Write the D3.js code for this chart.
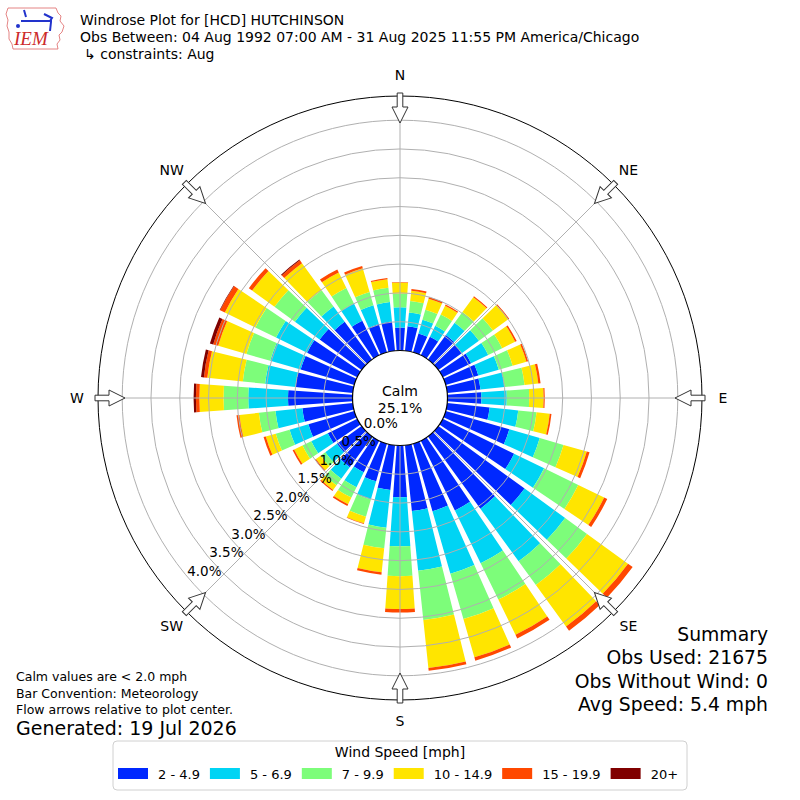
<!DOCTYPE html>
<html>
<head>
<meta charset="utf-8">
<script src="https://cdn.jsdelivr.net/npm/d3@7/dist/d3.min.js"></script>
<style>
  body { margin: 0; background: #fff; }
  svg text { font-family: "DejaVu Sans", sans-serif; fill: #000; }
</style>
</head>
<body>
<div id="windrose"></div>
<script>
// bar directions (degrees, where the wind comes from)
var directions = [0, 10, 20, 30, 40, 50, 60, 70, 80, 90, 100, 110, 120, 130, 140, 150, 160, 170,
                  180, 190, 200, 210, 220, 230, 240, 250, 260, 270, 280, 290, 300, 310, 320, 330, 340, 350];

// frequency (%) for each speed bin, one value per direction
var speed2to5 = [0.40, 0.43, 0.34, 0.36, 0.53, 0.50, 0.55, 0.59, 0.58, 0.59, 0.74, 1.15, 1.38, 1.85, 1.55, 1.35, 1.22, 1.15,
                 0.90, 0.78, 0.68, 0.61, 0.66, 0.53, 0.57, 0.83, 0.88, 1.12, 1.00, 0.97, 0.97, 0.90, 0.81, 0.67, 0.51, 0.51];
var speed5to7 = [0.35, 0.24, 0.25, 0.21, 0.26, 0.37, 0.33, 0.37, 0.42, 0.44, 0.50, 0.55, 0.58, 0.87, 1.13, 1.02, 1.13, 1.04,
                 0.85, 0.66, 0.33, 0.29, 0.25, 0.25, 0.32, 0.34, 0.47, 0.69, 0.53, 0.55, 0.60, 0.53, 0.33, 0.33, 0.34, 0.34];
var speed7to10 = [0.24, 0.20, 0.18, 0.22, 0.23, 0.30, 0.27, 0.25, 0.35, 0.39, 0.32, 0.43, 0.66, 0.47, 0.51, 0.70, 0.82, 0.86,
                  0.52, 0.36, 0.31, 0.20, 0.14, 0.10, 0.17, 0.25, 0.29, 0.43, 0.39, 0.43, 0.40, 0.44, 0.35, 0.30, 0.24, 0.25];
var speed10to15 = [0.19, 0.18, 0.20, 0.17, 0.32, 0.33, 0.25, 0.25, 0.24, 0.25, 0.23, 0.42, 0.50, 0.88, 0.89, 0.68, 0.69, 0.84,
                   0.57, 0.42, 0.12, 0.13, 0.10, 0.10, 0.16, 0.18, 0.34, 0.42, 0.62, 0.51, 0.59, 0.48, 0.58, 0.30, 0.43, 0.15];
var speed15to20 = [0.01, 0.03, 0.03, 0.02, 0.02, 0.02, 0.03, 0.03, 0.04, 0.02, 0.03, 0.05, 0.06, 0.10, 0.09, 0.07, 0.06, 0.05,
                   0.06, 0.04, 0.01, 0.03, 0.02, 0.02, 0.03, 0.04, 0.05, 0.06, 0.06, 0.09, 0.09, 0.07, 0.06, 0.06, 0.04, 0.02];
var speed20plus = [0, 0, 0, 0, 0, 0, 0, 0, 0, 0, 0, 0, 0, 0, 0, 0, 0, 0,
                   0, 0, 0, 0, 0, 0, 0, 0, 0, 0.04, 0.05, 0.06, 0.01, 0, 0.02, 0, 0, 0];

var binLabels = ['2 - 4.9', '5 - 6.9', '7 - 9.9', '10 - 14.9', '15 - 19.9', '20+'];
var binColors = ['#0028ff', '#00d4f4', '#7dfd7a', '#ffe500', '#ff4800', '#800000'];

var ringTicks = [0, 0.5, 1.0, 1.5, 2.0, 2.5, 3.0, 3.5, 4.0];
var compassLabels = ['N', 'NE', 'E', 'SE', 'S', 'SW', 'W', 'NW'];
var compassAngles = [0, 45, 90, 135, 180, 225, 270, 315];

var calmPct = 25.1;
var maxPct = 4.42;

var titleLines = ['Windrose Plot for [HCD] HUTCHINSON',
                  'Obs Between: 04 Aug 1992 07:00 AM - 31 Aug 2025 11:55 PM America/Chicago',
                  '\u21b3 constraints: Aug'];
var noteLines = ['Calm values are < 2.0 mph', 'Bar Convention: Meteorology', 'Flow arrows relative to plot center.'];
var summaryLines = ['Summary', 'Obs Used: 21675', 'Obs Without Wind: 0', 'Avg Speed: 5.4 mph'];

var width = 800, height = 800;
var cx = 400, cy = 398;
var rad = Math.PI / 180;

var svg = d3.select('#windrose').append('svg')
    .attr('width', width)
    .attr('height', height);

// ---- header -------------------------------------------------------------
var logo = svg.append('g').attr('transform', 'translate(4,4)');
logo.append('path')
    .attr('d', 'M4,4 L52,4 L54,9 L57,12 L56,17 L60,22 L58,28 L55,31 L56,36 L53,40 L54,45 L9,45 L8,40 L5,35 L5,28 L3,22 L4,16 L2,10 Z')
    .attr('fill', 'none')
    .attr('stroke', '#d66')
    .attr('stroke-width', 0.8);
logo.append('path')
    .attr('d', 'M17,17 L48,17 M20,6 L22,13 M40,10 L48,14 L46,17 M47,18 L46,27')
    .attr('fill', 'none')
    .attr('stroke', '#2233cc')
    .attr('stroke-width', 2);
logo.append('circle').attr('cx', 14).attr('cy', 22).attr('r', 2).attr('fill', '#2233cc');
logo.append('text')
    .attr('x', 10).attr('y', 41)
    .style('font-family', '"Liberation Serif", serif')
    .style('font-style', 'italic')
    .style('font-size', '19px')
    .style('fill', '#cc2a2a')
    .text('IEM');

svg.selectAll('.title-line')
    .data(titleLines)
    .enter()
    .append('text')
    .attr('class', 'title-line')
    .attr('x', (d, i) => i == 2 ? 84 : 80)
    .attr('y', (d, i) => 25 + i * 17)
    .style('font-size', '14px')
    .text(d => d);

// ---- scales -------------------------------------------------------------
var rScale = d3.scaleLinear()
    .domain([0, maxPct])
    .range([47.5, 302]);

var rows = directions.map(function(dir, i) {
    return {dir: dir, b0: speed2to5[i], b1: speed5to7[i], b2: speed7to10[i],
            b3: speed10to15[i], b4: speed15to20[i], b5: speed20plus[i]};
});
var stacked = d3.stack().keys(['b0', 'b1', 'b2', 'b3', 'b4', 'b5'])(rows);

var plot = svg.append('g').attr('transform', `translate(${cx},${cy})`);

var arc = d3.arc()
    .innerRadius(d => rScale(d[0]))
    .outerRadius(d => rScale(d[1]))
    .startAngle(d => (d.data.dir - 4) * rad)
    .endAngle(d => (d.data.dir + 4) * rad);

plot.selectAll('.bin')
    .data(stacked)
    .enter()
    .append('g')
    .attr('class', 'bin')
    .attr('fill', (d, i) => binColors[i])
    .selectAll('path')
    .data(d => d.filter(s => s[1] > s[0]))
    .enter()
    .append('path')
    .attr('d', arc);

// ---- grid ---------------------------------------------------------------
plot.selectAll('.ring')
    .data(ringTicks.filter(t => t > 0))
    .enter()
    .append('circle')
    .attr('class', 'ring')
    .attr('r', d => rScale(d))
    .attr('fill', 'none')
    .attr('stroke', '#b0b0b0')
    .attr('stroke-width', 1);

plot.selectAll('.spoke')
    .data(compassAngles)
    .enter()
    .append('line')
    .attr('class', 'spoke')
    .attr('x1', d => rScale(0) * Math.sin(d * rad))
    .attr('y1', d => -rScale(0) * Math.cos(d * rad))
    .attr('x2', d => rScale(maxPct) * Math.sin(d * rad))
    .attr('y2', d => -rScale(maxPct) * Math.cos(d * rad))
    .attr('stroke', '#b0b0b0')
    .attr('stroke-width', 1);

plot.append('circle')
    .attr('r', rScale(maxPct))
    .attr('fill', 'none')
    .attr('stroke', '#000')
    .attr('stroke-width', 1);

// calm circle in the middle
plot.append('circle')
    .attr('r', rScale(0))
    .attr('fill', '#fff')
    .attr('stroke', '#000')
    .attr('stroke-width', 1.2);
plot.append('text')
    .attr('text-anchor', 'middle')
    .attr('y', -2)
    .style('font-size', '14px')
    .text('Calm');
plot.append('text')
    .attr('text-anchor', 'middle')
    .attr('y', 15)
    .style('font-size', '14px')
    .text(calmPct.toFixed(1) + '%');

// ring labels along 230 deg
plot.selectAll('.ring-label')
    .data(ringTicks)
    .enter()
    .append('text')
    .attr('class', 'ring-label')
    .attr('x', d => rScale(d) * Math.sin(230 * rad))
    .attr('y', d => -rScale(d) * Math.cos(230 * rad) - 1)
    .style('font-size', '13.5px')
    .text(d => d.toFixed(1) + '%');

// ---- flow arrows + compass labels ---------------------------------------
var arrowPts = [[-2.8, -305], [2.8, -305], [2.8, -291], [8, -291], [0, -275], [-8, -291], [-2.8, -291]];
var arrowLine = d3.line();

plot.selectAll('.flow-arrow')
    .data(compassAngles)
    .enter()
    .append('path')
    .attr('class', 'flow-arrow')
    .attr('d', arrowLine(arrowPts) + 'Z')
    .attr('transform', d => `rotate(${d})`)
    .attr('fill', '#fff')
    .attr('stroke', '#333')
    .attr('stroke-width', 1);

plot.selectAll('.compass')
    .data(compassLabels)
    .enter()
    .append('text')
    .attr('class', 'compass')
    .attr('text-anchor', 'middle')
    .attr('dy', '0.36em')
    .attr('x', (d, i) => 323 * Math.sin(compassAngles[i] * rad))
    .attr('y', (d, i) => -323 * Math.cos(compassAngles[i] * rad))
    .style('font-size', '14px')
    .text(d => d);

// ---- notes and summary --------------------------------------------------
svg.selectAll('.note')
    .data(noteLines)
    .enter()
    .append('text')
    .attr('class', 'note')
    .attr('x', 16)
    .attr('y', (d, i) => 681 + i * 16.5)
    .style('font-size', '12.5px')
    .text(d => d);

svg.append('text')
    .attr('x', 16)
    .attr('y', 735)
    .style('font-size', '19px')
    .text('Generated: 19 Jul 2026');

svg.selectAll('.summary')
    .data(summaryLines)
    .enter()
    .append('text')
    .attr('class', 'summary')
    .attr('text-anchor', 'end')
    .attr('x', 768)
    .attr('y', (d, i) => 641 + i * 23.3)
    .style('font-size', '18.8px')
    .text(d => d);

// ---- legend -------------------------------------------------------------
var legend = svg.append('g');
legend.append('rect')
    .attr('x', 113).attr('y', 741)
    .attr('width', 574).attr('height', 49)
    .attr('rx', 4)
    .attr('fill', '#fff')
    .attr('stroke', '#d0d0d0');
legend.append('text')
    .attr('x', 400).attr('y', 757)
    .attr('text-anchor', 'middle')
    .style('font-size', '14px')
    .text('Wind Speed [mph]');

var xPos = 118;
binLabels.forEach(function(label, i) {
    legend.append('rect')
        .attr('x', xPos).attr('y', 768)
        .attr('width', 30).attr('height', 11)
        .attr('fill', binColors[i]);
    var t = legend.append('text')
        .attr('x', xPos + 40).attr('y', 779)
        .style('font-size', '13px')
        .text(label);
    xPos = xPos + 40 + t.node().getComputedTextLength() + 10;
});
</script>
</body>
</html>
